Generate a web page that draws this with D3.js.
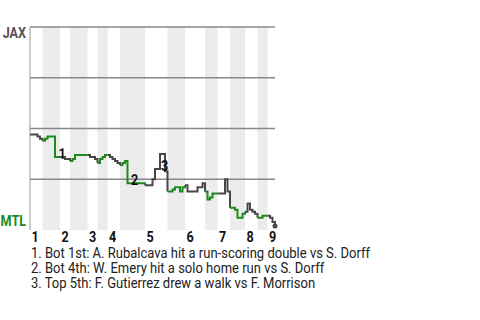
<!DOCTYPE html>
<html>
  <head>
    <meta charset="utf-8" />
    <title>Win Probability</title>
    <script src="https://d3js.org/d3.v7.min.js"></script>
    <style>
        body{
            margin: 0;
            background: #fff;
        }
        text{
            font-family: Roboto, "Liberation Sans", sans-serif;
        }
    </style>
  </head>
  <body>
    <svg id="vis" width="480" height="320"></svg>

    <script>
        // plate appearances in each half inning (top 1, bot 1, ... top 9)
        var halfInningEvents = [5, 7, 4, 7, 4, 4, 5, 10, 9, 7, 8, 5, 5, 6, 5, 4, 3];
        var inningLabels = ["1", "2", "3", "4", "5", "6", "7", "8", "9"];

        // JAX win probability after each plate appearance (first value = start)
        var winProb = [
            0.47,
            0.47, 0.47, 0.46, 0.45, 0.44,
            0.45, 0.46, 0.46, 0.46, 0.36, 0.36, 0.36,
            0.36, 0.35, 0.35, 0.34,
            0.35, 0.37, 0.37, 0.37, 0.37, 0.37, 0.37,
            0.36, 0.36, 0.35, 0.33,
            0.35, 0.36, 0.37, 0.37,
            0.36, 0.35, 0.34, 0.33, 0.32,
            0.33, 0.34, 0.23, 0.23, 0.23, 0.23, 0.23, 0.23, 0.23, 0.22,
            0.22, 0.22, 0.25, 0.30, 0.30, 0.374, 0.374, 0.29, 0.19,
            0.19, 0.20, 0.21, 0.21, 0.19, 0.21, 0.22,
            0.19, 0.19, 0.19, 0.19, 0.21, 0.21, 0.23, 0.19,
            0.15, 0.16, 0.18, 0.18, 0.18,
            0.18, 0.18, 0.25, 0.19, 0.11,
            0.11, 0.10, 0.06, 0.06, 0.08, 0.09,
            0.13, 0.10, 0.09, 0.08, 0.06,
            0.06, 0.07, 0.07, 0.07,
            0.06, 0.04, 0.02
        ];

        var teams = ["JAX", "MTL"];
        var gridValues = [0.25, 0.5, 0.75, 1];

        // key plays: event index and caption
        var keyEvents = [10, 39, 51];
        var keyNotes = [
            "1. Bot 1st: A. Rubalcava hit a run-scoring double vs S. Dorff",
            "2. Bot 4th: W. Emery hit a solo home run vs S. Dorff",
            "3. Top 5th: F. Gutierrez drew a walk vs F. Morrison"
        ];

        var grey = "#484848";
        var green = "#1a8a1a";
        var narrow = 0.9;   // squeeze text a bit, the original uses a condensed face
        var narrowNotes = 0.93;

        var svg = d3.select("#vis");

        var total = d3.sum(halfInningEvents);
        var x = d3.scaleLinear().domain([0, total]).range([30, 275]);
        var y = d3.scaleLinear().domain([0, 1]).range([230, 27]);

        // start index of each half inning
        var starts = [0];
        halfInningEvents.forEach(function(n, i) {
            starts.push(starts[i] + n);
        });

        // shaded bands for bottom halves
        svg.append("g").selectAll("rect")
            .data(halfInningEvents.map(function(n, i) { return i; }).filter(function(i) { return i % 2 == 1; }))
            .enter().append("rect")
            .attr("x", function(i) { return x(starts[i]); })
            .attr("width", function(i) { return x(starts[i + 1]) - x(starts[i]); })
            .attr("y", y(1))
            .attr("height", y(0) - y(1))
            .attr("fill", "#ececec");

        // grid lines
        svg.append("g").selectAll("line")
            .data(gridValues)
            .enter().append("line")
            .attr("x1", x(0)).attr("x2", x(total))
            .attr("y1", function(d) { return y(d); })
            .attr("y2", function(d) { return y(d); })
            .attr("stroke", "#888")
            .attr("stroke-width", 1.5);

        svg.append("line")
            .attr("x1", x(0)).attr("x2", x(0))
            .attr("y1", y(1)).attr("y2", y(0))
            .attr("stroke", "#999");

        // win probability line, one piece per half inning
        var line = d3.line()
            .x(function(d) { return x(d); })
            .y(function(d) { return y(winProb[d]); })
            .curve(d3.curveStepAfter);

        svg.append("g").selectAll("path")
            .data(halfInningEvents.map(function(n, i) { return i; }))
            .enter().append("path")
            .attr("d", function(i) { return line(d3.range(starts[i], starts[i + 1] + 1)); })
            .attr("fill", "none")
            .attr("stroke", function(i) { return i % 2 == 1 ? green : grey; })
            .attr("stroke-width", 2);

        svg.append("circle")
            .attr("cx", x(total))
            .attr("cy", y(winProb[total]))
            .attr("r", 2.5)
            .attr("fill", grey);

        // key play markers
        svg.append("g").selectAll("text")
            .data(keyEvents)
            .enter().append("text")
            .attr("transform", function(d) {
                return "translate(" + (x(d) + 3.5) + "," + (y(winProb[d]) + 2) + ") scale(" + narrow + ",1)";
            })
            .attr("font-size", 14)
            .attr("font-weight", "bold")
            .attr("fill", "#111")
            .text(function(d, i) { return i + 1; });

        // team labels
        svg.append("g").selectAll("text")
            .data(teams)
            .enter().append("text")
            .attr("transform", function(d, i) {
                return "translate(26," + (i == 0 ? 38 : 226) + ") scale(" + narrow + ",1)";
            })
            .attr("text-anchor", "end")
            .attr("font-size", 14)
            .attr("font-weight", "bold")
            .attr("fill", function(d, i) { return i == 0 ? "#555" : green; })
            .text(function(d) { return d; });

        // inning labels
        svg.append("g").selectAll("text")
            .data(inningLabels)
            .enter().append("text")
            .attr("transform", function(d, i) {
                return "translate(" + (x(starts[i * 2]) + 1.5) + ",242) scale(" + narrow + ",1)";
            })
            .attr("font-size", 14)
            .attr("font-weight", "bold")
            .attr("fill", "#111")
            .text(function(d) { return d; });

        // notes
        svg.append("g").selectAll("text")
            .data(keyNotes)
            .enter().append("text")
            .attr("transform", function(d, i) {
                return "translate(31," + (258 + i * 15) + ") scale(" + narrowNotes + ",1)";
            })
            .attr("font-size", 14)
            .attr("fill", "#222")
            .text(function(d) { return d; });
    </script>
  </body>
</html>
